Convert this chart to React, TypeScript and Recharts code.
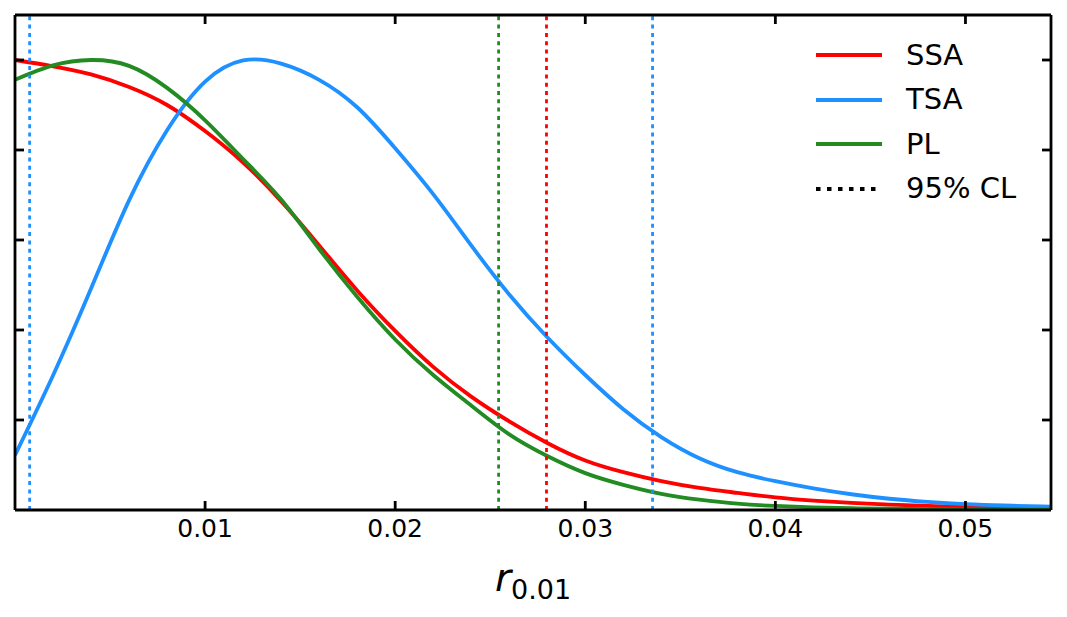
import { Line, LineChart, ReferenceLine, XAxis, YAxis } from "recharts";

const FONT = "DejaVu Sans";
const RED = "#FF0000";
const BLUE = "#1E90FF";
const GREEN = "#228B22";

// r_0.01 grid
const R = [
  0, 0.002, 0.004, 0.006, 0.008, 0.01, 0.012, 0.014, 0.016, 0.018, 0.02, 0.022, 0.024, 0.026,
  0.028, 0.03, 0.032, 0.034, 0.036, 0.038, 0.04, 0.042, 0.044, 0.046, 0.048, 0.05, 0.052, 0.054, 0.0545,
];
const SSA = [
  1.0, 0.986, 0.968, 0.94, 0.9, 0.842, 0.772, 0.686, 0.588, 0.488, 0.398, 0.318, 0.252, 0.197,
  0.149, 0.11, 0.084, 0.064, 0.049, 0.038, 0.028, 0.021, 0.016, 0.012, 0.0093, 0.007, 0.0055, 0.004, 0.0037,
];
const TSA = [
  0.122, 0.299, 0.492, 0.688, 0.844, 0.952, 0.999, 0.992, 0.956, 0.895, 0.804, 0.702, 0.588, 0.479,
  0.384, 0.3, 0.224, 0.162, 0.115, 0.084, 0.064, 0.048, 0.035, 0.025, 0.018, 0.013, 0.01, 0.008, 0.0075,
];
const PL = [
  0.956, 0.988, 1.0, 0.987, 0.938, 0.866, 0.78, 0.69, 0.58, 0.474, 0.379, 0.3, 0.232, 0.168,
  0.12, 0.082, 0.056, 0.036, 0.023, 0.014, 0.009, 0.006, 0.004, 0.003, 0.002, 0.0015, 0.001, 0.0007, 0.0006,
];

// 95% CL bounds
const CL_LINES = [
  { x: 0.00077, color: BLUE },
  { x: 0.02544, color: GREEN },
  { x: 0.02796, color: RED },
  { x: 0.03354, color: BLUE },
];

const X_TICKS = [0.01, 0.02, 0.03, 0.04, 0.05];
const Y_TICKS = [0.2, 0.4, 0.6, 0.8, 1.0];
const X_DOMAIN: [number, number] = [0, 0.0545];
const Y_DOMAIN: [number, number] = [0, 1.1];

const LEGEND = [
  { label: "SSA", color: RED, dotted: false },
  { label: "TSA", color: BLUE, dotted: false },
  { label: "PL", color: GREEN, dotted: false },
  { label: "95% CL", color: "#000", dotted: true },
];

const data = R.map((r, i) => ({ r, ssa: SSA[i], tsa: TSA[i], pl: PL[i] }));

const TICK_LEN = 9;
const frame = { stroke: "#000", strokeWidth: 2.8 };

const BottomTick = ({ x, y, payload }: any) => (
  <g>
    <line x1={x} y1={y} x2={x} y2={y - TICK_LEN} {...frame} />
    <text x={x} y={y + 27} textAnchor="middle" fontSize={25} fontFamily={FONT} fill="#000">
      {payload.value}
    </text>
  </g>
);
const TopTick = ({ x, y }: any) => <line x1={x} y1={y} x2={x} y2={y + TICK_LEN} {...frame} />;
const LeftTick = ({ x, y }: any) => <line x1={x} y1={y} x2={x + TICK_LEN} y2={y} {...frame} />;
const RightTick = ({ x, y }: any) => <line x1={x} y1={y} x2={x - TICK_LEN} y2={y} {...frame} />;

const AxisLabel = ({ viewBox }: any) => (
  <text x={viewBox.x + viewBox.width / 2} y={viewBox.y + 81} textAnchor="middle" fontFamily={FONT} fill="#000">
    <tspan fontSize={39} fontStyle="italic">r</tspan>
    <tspan fontSize={27} dy={8}>0.01</tspan>
  </text>
);

const LegendBox = () => (
  <div style={{ position: "absolute", left: 816, top: 33, fontFamily: FONT, fontSize: 29, color: "#000" }}>
    {LEGEND.map((item) => (
      <div key={item.label} style={{ display: "flex", alignItems: "center", height: 44.5 }}>
        <svg width={66} height={8} style={{ display: "block" }}>
          <line
            x1={0}
            y1={4}
            x2={66}
            y2={4}
            stroke={item.color}
            strokeWidth={4}
            strokeDasharray={item.dotted ? "4.5 6.5" : undefined}
          />
        </svg>
        <span style={{ marginLeft: 24, lineHeight: 1 }}>{item.label}</span>
      </div>
    ))}
  </div>
);

export default function App() {
  return (
    <div style={{ position: "absolute", left: 0, top: 0, width: 1067, height: 617, background: "#fff" }}>
      <LineChart width={1067} height={617} data={data} margin={{ top: 14, right: 15, bottom: 0, left: 14 }}>
        <XAxis
          dataKey="r"
          type="number"
          domain={X_DOMAIN}
          allowDataOverflow
          ticks={X_TICKS}
          interval={0}
          height={107}
          tickSize={0}
          tickMargin={0}
          tickLine={false}
          axisLine={frame}
          tick={BottomTick}
          label={<AxisLabel />}
        />
        <XAxis
          xAxisId="top"
          orientation="top"
          dataKey="r"
          type="number"
          domain={X_DOMAIN}
          allowDataOverflow
          ticks={X_TICKS}
          interval={0}
          height={1}
          tickSize={0}
          tickMargin={0}
          tickLine={false}
          axisLine={frame}
          tick={TopTick}
        />
        <YAxis
          type="number"
          domain={Y_DOMAIN}
          allowDataOverflow
          ticks={Y_TICKS}
          interval={0}
          width={1}
          tickSize={0}
          tickMargin={0}
          tickLine={false}
          axisLine={frame}
          tick={LeftTick}
        />
        <YAxis
          yAxisId="right"
          orientation="right"
          type="number"
          domain={Y_DOMAIN}
          allowDataOverflow
          ticks={Y_TICKS}
          interval={0}
          width={1}
          tickSize={0}
          tickMargin={0}
          tickLine={false}
          axisLine={frame}
          tick={RightTick}
        />
        <Line type="natural" dataKey="ssa" stroke={RED} strokeWidth={3.8} dot={false} isAnimationActive={false} />
        <Line type="natural" dataKey="tsa" stroke={BLUE} strokeWidth={3.8} dot={false} isAnimationActive={false} />
        <Line type="natural" dataKey="pl" stroke={GREEN} strokeWidth={3.8} dot={false} isAnimationActive={false} />
        {CL_LINES.map((l) => (
          <ReferenceLine key={l.x} x={l.x} stroke={l.color} strokeWidth={2.8} strokeDasharray="4 4.3" />
        ))}
      </LineChart>
      <LegendBox />
    </div>
  );
}
